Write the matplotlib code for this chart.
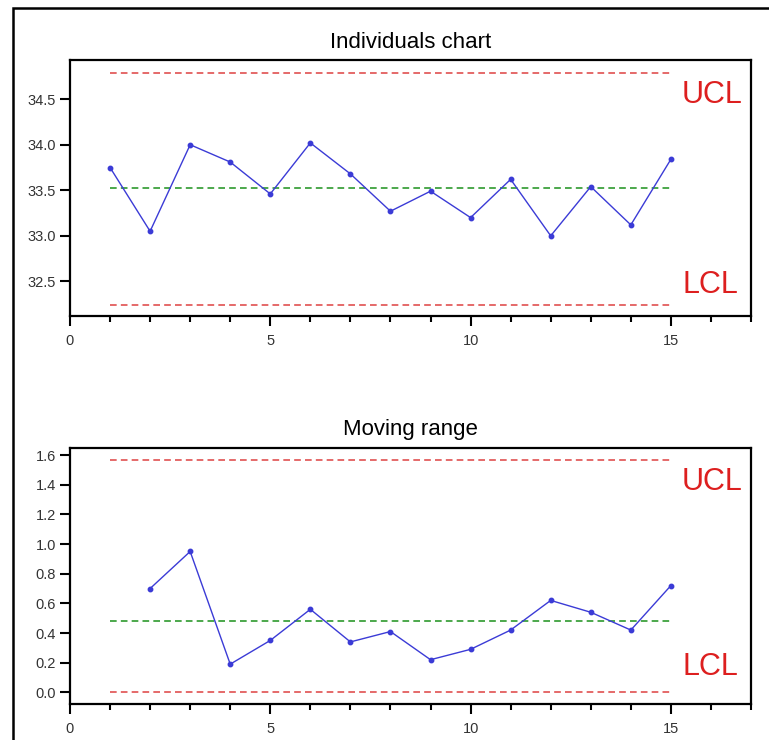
import matplotlib
matplotlib.use('Agg')
import matplotlib.pyplot as plt
from matplotlib.patches import Rectangle
from matplotlib.ticker import MultipleLocator

plt.rcParams['font.family'] = ['Liberation Sans', 'DejaVu Sans']

# data
samples = [1, 2, 3, 4, 5, 6, 7, 8, 9, 10, 11, 12, 13, 14, 15]
values = [33.75, 33.05, 34.00, 33.81, 33.46, 34.02, 33.68, 33.27,
          33.49, 33.20, 33.62, 33.00, 33.54, 33.12, 33.84]
ind_ucl = 34.79
ind_cl = 33.52
ind_lcl = 32.24

mr_samples = [2, 3, 4, 5, 6, 7, 8, 9, 10, 11, 12, 13, 14, 15]
mr_values = [0.70, 0.95, 0.19, 0.35, 0.56, 0.34, 0.41, 0.22,
             0.29, 0.42, 0.62, 0.54, 0.42, 0.72]
mr_ucl = 1.566
mr_cl = 0.481
mr_lcl = 0.0

line_blue = '#3b3bd6'
lim_red = '#e05050'
cl_green = '#2e9a2e'
tick_grey = '#333333'

fig = plt.figure(figsize=(7.69, 7.40), dpi=100)
fig.set_facecolor('white')

# outer frame (cut off at right / bottom like the original)
fig.patches.append(Rectangle((13 / 769, -0.1), 1.0, 1 - 8 / 740 + 0.1,
                             transform=fig.transFigure, fill=False,
                             edgecolor='black', linewidth=1.8, clip_on=False))


def style_axes(ax, ylo, yhi, ymajor):
    ax.set_xlim(0, 17)
    ax.set_ylim(ylo, yhi)
    ax.xaxis.set_major_locator(MultipleLocator(5))
    ax.xaxis.set_minor_locator(MultipleLocator(1))
    ax.yaxis.set_major_locator(MultipleLocator(ymajor))
    for s in ax.spines.values():
        s.set_linewidth(1.6)
    ax.tick_params(axis='x', which='major', direction='out', length=7, width=1.5,
                   pad=6, labelsize=10.5, labelcolor=tick_grey, top=False)
    ax.tick_params(axis='x', which='minor', direction='out', length=4, width=1.5,
                   top=False)
    ax.tick_params(axis='y', which='major', direction='out', length=7, width=1.5,
                   pad=3, labelsize=10.5, labelcolor=tick_grey, right=False)


def draw_chart(ax, xs, ys, ucl, cl, lcl, title, ucl_y, lcl_y):
    ax.plot([1, 15], [ucl, ucl], ls=(0, (4, 2.5)), color=lim_red, lw=1.2)
    ax.plot([1, 15], [lcl, lcl], ls=(0, (4, 2.5)), color=lim_red, lw=1.2)
    ax.plot([1, 15], [cl, cl], ls=(0, (4, 2.5)), color=cl_green, lw=1.2)
    ax.plot(xs, ys, color=line_blue, lw=1.0, marker='o', markersize=3.2,
            markerfacecolor=line_blue, markeredgecolor=line_blue)
    ax.set_title(title, fontsize=16, pad=9)
    ax.text(15.28, ucl_y, 'UCL', color='#dd1f1f', fontsize=22,
            va='center', ha='left')
    ax.text(15.28, lcl_y, 'LCL', color='#dd1f1f', fontsize=22,
            va='center', ha='left')


ax1 = fig.add_axes([0.0910, 0.5730, 0.8856, 0.3459])
style_axes(ax1, 32.12, 34.93, 0.5)
ax1.yaxis.set_major_formatter(plt.FormatStrFormatter('%.1f'))
draw_chart(ax1, samples, values, ind_ucl, ind_cl, ind_lcl,
           'Individuals chart', 34.55, 32.46)

ax2 = fig.add_axes([0.0910, 0.0486, 0.8856, 0.3464])
style_axes(ax2, -0.079, 1.65, 0.2)
ax2.yaxis.set_major_formatter(plt.FormatStrFormatter('%.1f'))
draw_chart(ax2, mr_samples, mr_values, mr_ucl, mr_cl, mr_lcl,
           'Moving range', 1.42, 0.17)

fig.savefig('out.png', dpi=100)
